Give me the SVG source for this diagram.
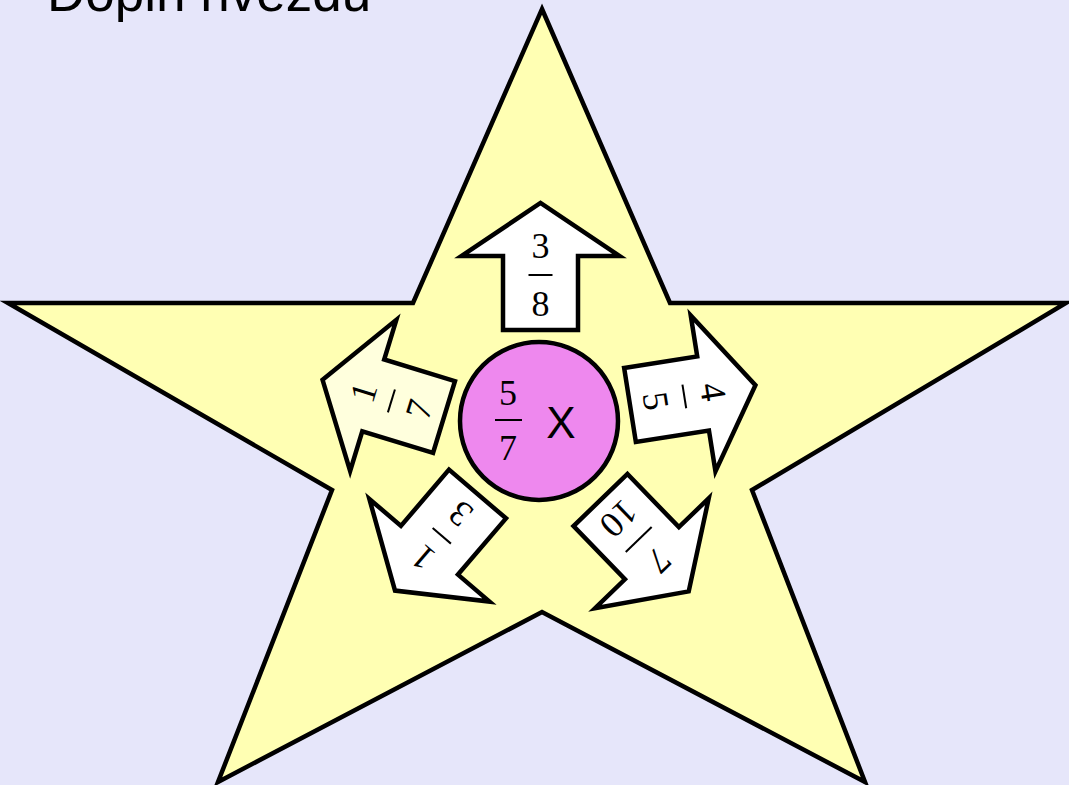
<svg xmlns="http://www.w3.org/2000/svg" width="1069" height="785" viewBox="0 0 1069 785">
<defs>
<style>
.arrow{stroke:#000;stroke-width:4.5;stroke-linejoin:miter;fill:#fff}
.num{font-family:"Liberation Serif","Times New Roman",serif;font-size:36px;fill:#000;text-anchor:middle}
.bar{stroke:#000;stroke-width:2}
</style>
<path id="arr" d="M -37.5 0 L -37.5 -74 L -79 -74 L 0 -127 L 79 -74 L 37.5 -74 L 37.5 0 Z"/>
</defs>
<rect x="0" y="0" width="1069" height="785" fill="#e6e6fa"/>
<text x="47" y="11" font-family="Liberation Sans, Arial, sans-serif" font-size="53" fill="#000">Doplň hvězdu</text>
<g id="star">
<polygon points="542,9 670,303 1066,303 752,490 865,782 542,612 218,782 332,490 8,303 413,303" fill="#ffffb3" stroke="#000" stroke-width="4.5" stroke-linejoin="miter"/>
</g>
<g id="connectors"></g>
<g id="arrow-up" transform="translate(540.5,330)">
<use href="#arr" class="arrow"/>
<text class="num" x="0" y="-72">3</text>
<line class="bar" x1="-12" y1="-55" x2="12" y2="-55"/>
<text class="num" x="0" y="-14">8</text>
</g>
<g id="arrow-right" transform="translate(630,405) rotate(81)">
<use href="#arr" class="arrow"/>
<text class="num" x="0" y="-72">4</text>
<line class="bar" x1="-12" y1="-55" x2="12" y2="-55"/>
<text class="num" x="0" y="-14">5</text>
</g>
<g id="arrow-left" transform="translate(444,417) rotate(-73)">
<use href="#arr" class="arrow" style="fill:#ffffdd"/>
<text class="num" x="0" y="-72">1</text>
<line class="bar" x1="-12" y1="-55" x2="12" y2="-55"/>
<text class="num" x="0" y="-14">7</text>
</g>
<g id="arrow-bottom-left" transform="translate(477.5,494) rotate(220.5)">
<use href="#arr" class="arrow"/>
<text class="num" x="0" y="-72">1</text>
<line class="bar" x1="-12" y1="-55" x2="12" y2="-55"/>
<text class="num" x="0" y="-14">3</text>
</g>
<g id="arrow-bottom-right" transform="translate(600.5,500) rotate(136)">
<use href="#arr" class="arrow"/>
<text class="num" x="0" y="-72">7</text>
<line class="bar" x1="-18" y1="-55" x2="18" y2="-55"/>
<text class="num" x="0" y="-14">10</text>
</g>
<g id="center">
<circle cx="539" cy="421" r="79" fill="#ee88ee" stroke="#000" stroke-width="4.5"/>
<text class="num" x="508" y="405">5</text>
<line class="bar" x1="495" y1="420" x2="522" y2="420"/>
<text class="num" x="508" y="460">7</text>
<text x="561" y="438" font-family="Liberation Sans, Arial, sans-serif" font-size="44" text-anchor="middle" fill="#000">X</text>
</g>
</svg>
